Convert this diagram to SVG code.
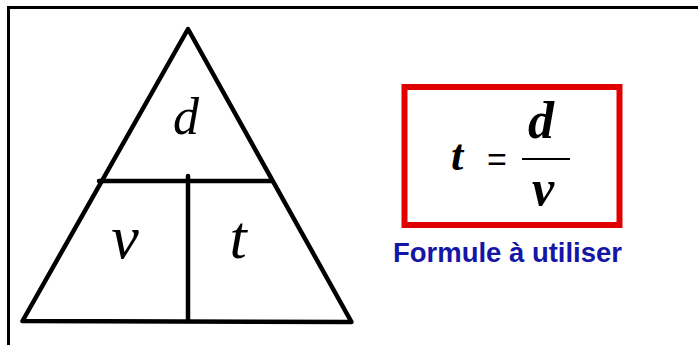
<svg xmlns="http://www.w3.org/2000/svg" width="698" height="345" viewBox="0 0 698 345">
<style>
.ln{stroke:#000;stroke-width:4.5;fill:none;stroke-linecap:round;stroke-linejoin:round}
.var{font-family:"Liberation Serif","Times New Roman",serif;font-style:italic;fill:#000}
.fv{font-family:"Liberation Serif","Times New Roman",serif;font-style:italic;font-weight:bold;fill:#000}
.cap{font-family:"Liberation Sans",Arial,sans-serif;font-weight:bold;fill:#1616a6}
</style>
<rect width="698" height="345" fill="#fff"/>
<g id="frame">
<path d="M8.5,345 V7.5 H698" stroke="#000" stroke-width="3" fill="none"/>
</g>
<g id="triangle">
<path class="ln" d="M188,29 L22.5,321 L351.5,322 Z"/>
<line class="ln" x1="99" y1="181" x2="272" y2="181"/>
<line class="ln" x1="188" y1="176" x2="188" y2="321"/>
<text class="var" x="186" y="134" font-size="52" text-anchor="middle">d</text>
<text class="var" x="125" y="258" font-size="62" text-anchor="middle">v</text>
<text class="var" x="238" y="258" font-size="62" text-anchor="middle">t</text>
</g>
<g id="formula">
<rect x="404.5" y="87" width="215" height="138" fill="none" stroke="#e00000" stroke-width="6"/>
<text class="fv" x="457" y="170" font-size="44" text-anchor="middle">t</text>
<text x="497" y="171" font-family="Liberation Sans,Arial,sans-serif" font-size="34" text-anchor="middle" fill="#000">=</text>
<line x1="522" y1="159" x2="570" y2="159" stroke="#000" stroke-width="2"/>
<text class="fv" x="541" y="138" font-size="52" text-anchor="middle">d</text>
<text class="fv" x="543" y="205" font-size="50" text-anchor="middle">v</text>
</g>
<g id="caption">
<text class="cap" x="393" y="262" font-size="28" textLength="229" lengthAdjust="spacingAndGlyphs">Formule à utiliser</text>
</g>
</svg>
